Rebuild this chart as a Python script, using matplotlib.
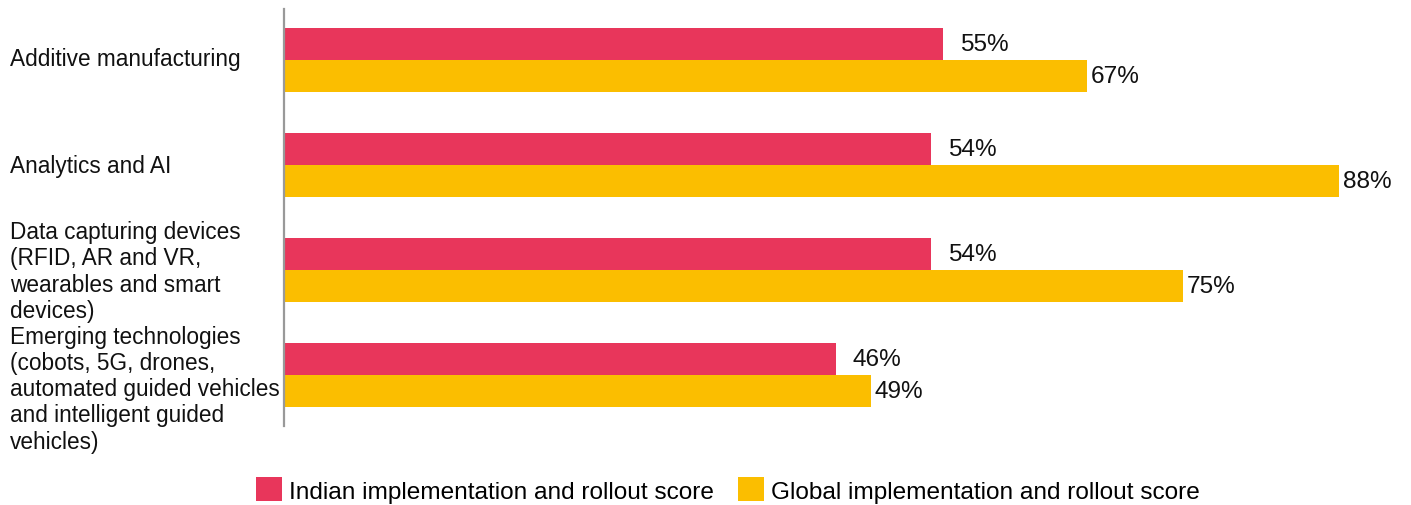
import matplotlib
matplotlib.use("Agg")
import matplotlib.pyplot as plt
import matplotlib.transforms as mtransforms
from matplotlib.patches import Patch

plt.rcParams['font.family'] = ['Liberation Sans', 'DejaVu Sans']

categories = [
    "Additive manufacturing",
    "Analytics and AI",
    "Data capturing devices\n(RFID, AR and VR,\nwearables and smart\ndevices)",
    "Emerging technologies\n(cobots, 5G, drones,\nautomated guided vehicles\nand intelligent guided\nvehicles)",
]
indian_scores = [55, 54, 54, 46]
global_scores = [67, 88, 75, 49]
series_names = ["Indian implementation and rollout score",
                "Global implementation and rollout score"]

RED = "#E8365B"
YELLOW = "#FBBE00"

fig = plt.figure(figsize=(14.11, 5.06), dpi=100)
ax = fig.add_axes([284 / 1411, 1 - 427 / 506, 1 - 284 / 1411, 417 / 506])

bar_h = 0.305
ypos = list(range(len(categories)))
ax.barh([y - bar_h / 2 for y in ypos], indian_scores, height=bar_h, color=RED)
ax.barh([y + bar_h / 2 for y in ypos], global_scores, height=bar_h, color=YELLOW)

ax.set_xlim(0, 94.0)
ax.set_ylim(3.49, -0.49)

for y, v in zip(ypos, indian_scores):
    ax.annotate(f"{v}%", (v, y - bar_h / 2), xytext=(12, 0), textcoords="offset points",
                va="center", ha="left", fontsize=17.6, color="#111111")
for y, v in zip(ypos, global_scores):
    ax.annotate(f"{v}%", (v, y + bar_h / 2), xytext=(2.5, 0), textcoords="offset points",
                va="center", ha="left", fontsize=17.6, color="#111111")

# category labels, left aligned against the figure edge
trans = mtransforms.blended_transform_factory(fig.transFigure, ax.transData)
label_shift = [-2, 0, 1, 14]
for y, name, s in zip(ypos, categories, label_shift):
    t = trans + mtransforms.ScaledTranslation(0, -s / 100, fig.dpi_scale_trans)
    fig.text(10 / 1411, y, name, transform=t, ha="left", va="center",
             fontsize=16.3, linespacing=1.18, color="#111111")

ax.set_xticks([])
ax.set_yticks([])
for side in ("top", "right", "bottom"):
    ax.spines[side].set_visible(False)
ax.spines["left"].set_color("#999999")
ax.spines["left"].set_linewidth(1.6)

handles = [Patch(facecolor=RED, edgecolor="none"), Patch(facecolor=YELLOW, edgecolor="none")]
fig.legend(handles, series_names, loc="center", bbox_to_anchor=(728 / 1411, 1 - 491 / 506),
           ncol=2, frameon=False, fontsize=17.6, handlelength=1.05, handleheight=1.1,
           handletextpad=0.3, columnspacing=1.0, borderpad=0)

fig.savefig("out.png", dpi=100)
